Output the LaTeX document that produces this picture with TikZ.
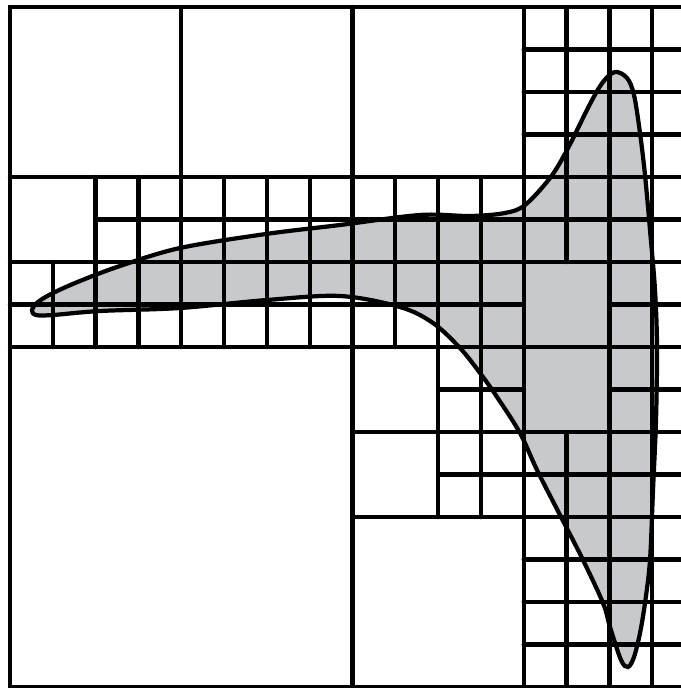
\documentclass[tikz,border=0pt]{standalone}
\usepackage{tikz}
\usetikzlibrary{calc}
\definecolor{blobgray}{RGB}{200,201,204}

\begin{document}
\begin{tikzpicture}[x=0.025cm, y=-0.025cm, gridline/.style={line width=3.1pt, line cap=round}, blob/.style={line width=3pt}]
        % Fix the page to the size of the reference
        \useasboundingbox (0,0) rectangle (680,688);

        % The outline of the region (in pixel units)
        \def\blobpath{plot[smooth cycle, tension=0.55] coordinates {
          (32,310) (38,302) (53,293) (80,281) (120,266) (180,248) (266,234) (340,225)
          (420,215) (470,216) (505,213) (525,205) (550,178) (567,150) (590,104) (603,82)
          (615,72) (627,78) (634,95) (640,133) (645,175) (650,230) (655,290) (657,347)
          (656,420) (653,490) (650,560) (645,603) (640,633) (634,657) (628,667) (621,660)
          (610,627) (603,603) (583,560) (560,515) (537,470) (520,433) (497,397) (480,373)
          (460,348) (433,323) (400,307) (340,296) (267,300) (180,308) (100,311) (53,315) (36,315)}}

        % Fill the region first
        \fill[blobgray] \blobpath;

        % The quadtree cells, one grid unit per finest cell
        \begin{scope}[shift={(10,7)}, x=1.07cm, y=-1.0625cm]
          \draw[gridline] (0,0) rectangle (16,16);

          % vertical cuts
          \draw[gridline] (4,0) -- (4,8);
          \draw[gridline] (8,0) -- (8,16);
          \draw[gridline] (12,0) -- (12,16);
          \draw[gridline] (1,6) -- (1,8);
          \foreach \i in {2,3,5,6,7,9}
            \draw[gridline] (\i,4) -- (\i,8);
          \foreach \i in {10,11}
            \draw[gridline] (\i,4) -- (\i,12);
          \draw[gridline] (13,0) -- (13,6);
          \draw[gridline] (13,10) -- (13,16);
          \foreach \i in {14,15}
            \draw[gridline] (\i,0) -- (\i,16);

          % horizontal cuts
          \foreach \j in {1,2,3,13,14,15}
            \draw[gridline] (12,\j) -- (16,\j);
          \foreach \j in {4,6,8}
            \draw[gridline] (0,\j) -- (16,\j);
          \draw[gridline] (2,5) -- (16,5);
          \draw[gridline] (0,7) -- (12,7);
          \draw[gridline] (14,7) -- (16,7);
          \draw[gridline] (10,9) -- (12,9);
          \draw[gridline] (14,9) -- (16,9);
          \draw[gridline] (8,10) -- (16,10);
          \draw[gridline] (10,11) -- (16,11);
          \draw[gridline] (8,12) -- (16,12);
        \end{scope}

        % Outline on top
        \draw[blob] \blobpath;
      \end{tikzpicture}
\end{document}
